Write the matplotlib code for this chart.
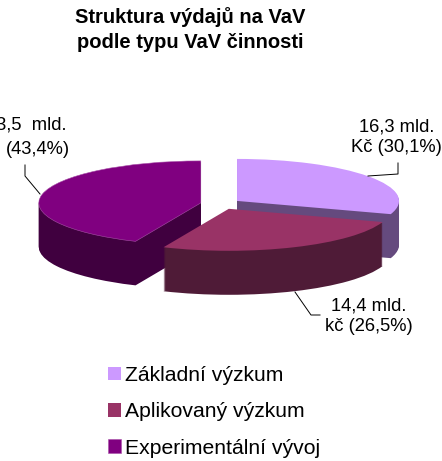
# Struktura vydaju na VaV - 3D kolac
import matplotlib
matplotlib.use("Agg")
import matplotlib.pyplot as plt

plt.rcParams['font.family'] = ['Liberation Sans', 'DejaVu Sans']

# Data
categories = ["Základní výzkum", "Aplikovaný výzkum", "Experimentální vývoj"]
shares = [30.1, 26.5, 43.4]
labels = ["16,3 mld.\nKč (30,1%)", "14,4 mld.\nkč (26,5%)", "23,5  mld.\n(43,4%)"]
top_colors = ["#CC99FF", "#993366", "#800080"]
side_colors = ["#654A7E", "#4F1B37", "#40003F"]

# Geometrie v pixelech obrazku
radius = 162
squash = 162 / 42
cx, cy = 220.6, 204
depth = 44
gap = 0.125 * radius  # explode je v jednotkach dat
order = [1, 3, 2]  # zadni platek se kresli prvni


def Y(py):
    return -py * squash


fig = plt.figure(figsize=(4.42, 4.61), dpi=100)
ax = fig.add_axes([0, 0, 1, 1])

# Boky: vrstvy kolace posunute dolu
for d in range(depth, 0, -1):
    wedges, _ = ax.pie(shares, explode=[gap] * 3, center=(cx, Y(cy + d)), radius=radius,
                       startangle=90, counterclock=False, colors=side_colors)
    for w, z in zip(wedges, order):
        w.set_zorder(z)

# Horni plocha
tops, _ = ax.pie(shares, explode=[gap] * 3, center=(cx, Y(cy)), radius=radius,
                 startangle=90, counterclock=False, colors=top_colors)
for w, z in zip(tops, order):
    w.set_zorder(z + 0.5)
tops[2].set_edgecolor('#A850A8')
tops[2].set_linewidth(0.4)

ax.set_aspect('auto')
ax.set_xlim(0, 442)
ax.set_ylim(Y(461), 0)
ax.axis('off')

# Nadpis
ax.text(190, Y(29.5), "Struktura výdajů na VaV\npodle typu VaV činnosti", fontsize=14.5,
        fontweight='bold', ha='center', va='center', linespacing=1.35)

# Popisky a odkazove cary
ax.text(396.5, Y(137), labels[0], fontsize=13.2, ha='center', va='center', linespacing=1.3)
ax.text(369, Y(316), labels[1], fontsize=13.2, ha='center', va='center', linespacing=1.3)
line1, line2 = labels[2].split("\n")
ax.text(66, Y(125), line1, fontsize=13.2, ha='right', va='center')
ax.text(70, Y(149), line2, fontsize=13.2, ha='right', va='center')

ax.plot([368, 398, 398], [Y(176), Y(174), Y(163)], color='k', lw=0.7, zorder=5)
ax.plot([295, 311, 320], [Y(292), Y(315), Y(315)], color='k', lw=0.7, zorder=5)
ax.plot([40, 25, 25], [Y(194), Y(176), Y(165)], color='k', lw=0.7, zorder=5)

# Legenda
ax.legend(tops, categories, loc='upper left', bbox_to_anchor=(107.5 / 442, 1 - 366 / 461),
          frameon=False, fontsize=15.2, handlelength=0.62, handleheight=0.62,
          handletextpad=0.2, labelspacing=0.82, borderpad=0, borderaxespad=0)

fig.savefig("out.png", dpi=100)
